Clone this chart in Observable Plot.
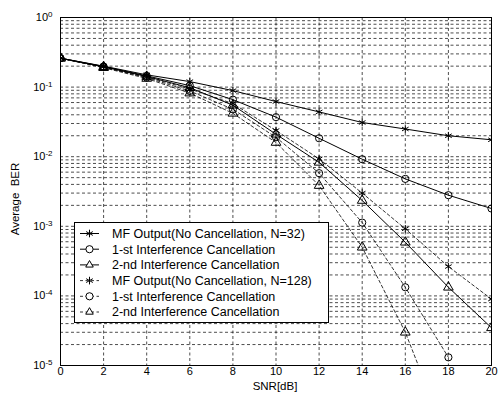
<!DOCTYPE html>
<html><head><meta charset="utf-8">
<script src="https://cdn.jsdelivr.net/npm/d3@7"></script>
<script src="https://cdn.jsdelivr.net/npm/@observablehq/plot@0.6"></script>
<style>
body{margin:0;background:#fff}
#chart{position:relative;width:504px;height:396px}
svg{display:block}
</style>
</head><body><div id="chart"></div>
<script>
// ---- data ----
const snr = [0, 2, 4, 6, 8, 10, 12, 14, 16, 18, 20];
const mf32   = [0.26, 0.200, 0.150, 0.120, 0.089, 0.062, 0.044, 0.031, 0.025, 0.020, 0.0175];
const ic1_32 = [0.26, 0.198, 0.145, 0.105, 0.066, 0.037, 0.0184, 0.0092, 0.0048, 0.0028, 0.0018];
const ic2_32 = [0.26, 0.196, 0.142, 0.098, 0.055, 0.021, 0.0083, 0.00235, 0.00059, 0.000133, 0.0000348];
const mf128   = [0.26, 0.195, 0.140, 0.094, 0.058, 0.0238, 0.0093, 0.0030, 0.00092, 0.000264, 0.00009];
const ic1_128 = [0.26, 0.193, 0.137, 0.088, 0.048, 0.019, 0.0058, 0.00113, 0.000133, 0.0000131, null];
const ic2_128 = [0.26, 0.190, 0.133, 0.082, 0.042, 0.016, 0.00385, 0.0005, 0.00003, 0.0000008, null];

const seriesLabels = [
  "MF Output(No Cancellation, N=32)",
  "1-st Interference Cancellation",
  "2-nd Interference Cancellation",
  "MF Output(No Cancellation, N=128)",
  "1-st Interference Cancellation",
  "2-nd Interference Cancellation"
];
const seriesValues = [mf32, ic1_32, ic2_32, mf128, ic1_128, ic2_128];
const seriesSymbols = ["asterisk", "circle", "triangle", "asterisk", "circle", "triangle"];
const seriesDashed = [false, false, false, true, true, true];

const xTicks = [0, 2, 4, 6, 8, 10, 12, 14, 16, 18, 20];
const yTicks = [1e-5, 1e-4, 1e-3, 1e-2, 1e-1, 1];
const yTickExponents = ["-5", "-4", "-3", "-2", "-1", "0"];
const xLabel = "SNR[dB]";
const yLabel = "Average  BER";

// minor log grid positions (1..9 per decade)
const yGrid = [];
for (let e = -5; e < 0; e++) for (let k = 1; k <= 9; k++) yGrid.push(k * Math.pow(10, e));
yGrid.push(1);

const rows = [];
seriesValues.forEach((vals, s) => vals.forEach((v, i) => {
  if (v != null) rows.push({snr: snr[i], ber: v, key: s, symbol: seriesSymbols[s], dashed: seriesDashed[s]});
}));
const solid = rows.filter(d => !d.dashed);
const dashed = rows.filter(d => d.dashed);

const font = "'Liberation Sans', Arial, Helvetica, sans-serif";
const gridStyle = {stroke: "#000", strokeWidth: 0.7, strokeDasharray: "3,2.5", strokeOpacity: 1};

const chart = Plot.plot({
  width: 504, height: 396,
  marginLeft: 60, marginRight: 13, marginTop: 17, marginBottom: 31,
  style: {fontFamily: font, fontSize: "11px", background: "#fff", color: "#000"},
  x: {domain: [0, 20], label: null},
  y: {type: "log", domain: [1e-5, 1], label: null},
  marks: [
    Plot.ruleY(yGrid, gridStyle),
    Plot.ruleX(xTicks, gridStyle),
    Plot.line(solid, {x: "snr", y: "ber", z: "key", stroke: "#000", strokeWidth: 1, clip: true}),
    Plot.line(dashed, {x: "snr", y: "ber", z: "key", stroke: "#000", strokeWidth: 0.8, strokeDasharray: "3,2.5", clip: true}),
    Plot.dot(rows, {x: "snr", y: "ber", symbol: "symbol", r: 3.6, stroke: "#000", fill: "none", strokeWidth: 1, clip: true}),
    Plot.frame({stroke: "#000", strokeWidth: 1}),
    Plot.axisX({ticks: xTicks, tickSize: 0, tickPadding: 2, tickFormat: d => String(d), label: null}),
    Plot.axisY({ticks: yTicks, tickSize: 0, tickPadding: 8, tickFormat: d => "10^" + yTickExponents[yTicks.indexOf(d)], label: null})
  ]
});
document.getElementById("chart").appendChild(chart);

const svg = d3.select(chart);
// superscript exponents
svg.selectAll('g[aria-label="y-axis tick label"] text').each(function() {
  const t = d3.select(this);
  const s = t.text();
  const exp = s.split("^")[1];
  t.text("10");
  t.append("tspan").attr("dy", "-0.5em").attr("font-size", "8px").text(exp);
});

// axis labels
svg.append("text").attr("x", 275).attr("y", 390).attr("text-anchor", "middle")
  .attr("font-family", font).attr("font-size", "11.5px").text(xLabel);
svg.append("text").attr("transform", "translate(19,199) rotate(-90)").attr("text-anchor", "middle")
  .attr("font-family", font).attr("font-size", "11.5px").text(yLabel);

// legend
const lg = svg.append("g").attr("font-family", font).attr("font-size", "12.5px").attr("text-anchor", "start");
lg.append("rect").attr("x", 74.5).attr("y", 222.5).attr("width", 254).attr("height", 100)
  .attr("fill", "#fff").attr("stroke", "#000");
const symMap = {asterisk: d3.symbolAsterisk, circle: d3.symbolCircle, triangle: d3.symbolTriangle2};
seriesLabels.forEach((lab, i) => {
  const cy = 233.5 + i * 15.7;
  lg.append("line").attr("x1", 80).attr("x2", 99).attr("y1", cy).attr("y2", cy)
    .attr("stroke", "#000").attr("stroke-width", seriesDashed[i] ? 0.8 : 1)
    .attr("stroke-dasharray", seriesDashed[i] ? "3,2.5" : null);
  lg.append("path").attr("transform", `translate(89.5,${cy})`)
    .attr("d", d3.symbol(symMap[seriesSymbols[i]], Math.PI * 3.6 * 3.6)())
    .attr("fill", seriesSymbols[i] === "asterisk" ? "none" : "#fff").attr("stroke", "#000");
  lg.append("text").attr("x", 112).attr("y", cy).attr("dy", "0.35em").attr("text-anchor", "start").text(lab);
});
</script>
</body></html>
